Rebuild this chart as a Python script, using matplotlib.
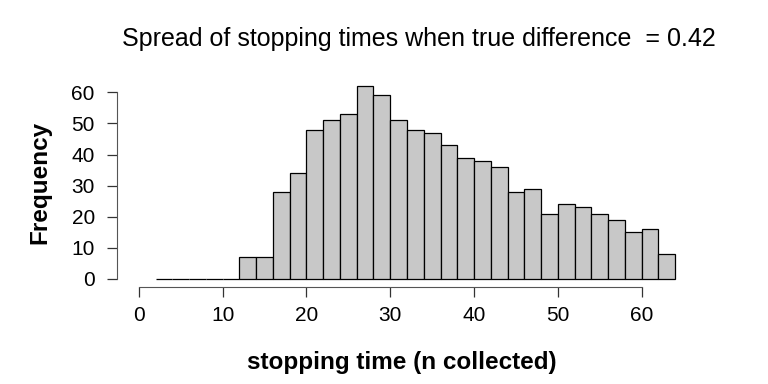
import matplotlib
matplotlib.use("Agg")
import matplotlib.pyplot as plt
import numpy as np

plt.rcParams['font.family'] = ['Liberation Sans', 'DejaVu Sans']

bin_edges = list(range(2, 66, 2))
counts = [0, 0, 0, 0, 0, 7, 7, 28, 34, 48, 51, 53, 62, 59, 51, 48, 47, 43,
          39, 38, 36, 28, 29, 21, 24, 23, 21, 19, 15, 16, 8]
x_ticks = [0, 10, 20, 30, 40, 50, 60]
y_ticks = [0, 10, 20, 30, 40, 50, 60]
title = "Spread of stopping times when true difference  = 0.42"
xlabel = "stopping time (n collected)"
ylabel = "Frequency"

fig = plt.figure(figsize=(7.68, 3.84), dpi=100)
W, H = 768, 384
left, right, top, bottom = 117, 697, 78, 287
ax = fig.add_axes([left / W, 1 - bottom / H, (right - left) / W, (bottom - top) / H])

ax.hist(bin_edges[:-1], bins=bin_edges, weights=counts, color='#C8C8C8',
        edgecolor='black', linewidth=0.9)
ax.set_xlim(-2.6, 66.6)
ax.set_ylim(-2.6, 64.6)

for s in ['top', 'right']:
    ax.spines[s].set_visible(False)
ax.spines['left'].set_bounds(0, 60)
ax.spines['bottom'].set_bounds(0, 60)
ax.spines['left'].set_color('#555555')
ax.spines['bottom'].set_color('#555555')
ax.set_xticks(x_ticks)
ax.set_yticks(y_ticks)
ax.tick_params(axis='both', direction='out', length=7, width=0.9, color='#333333',
               labelsize=15)
ax.tick_params(axis='x', pad=7)
ax.tick_params(axis='y', pad=9)
ax.set_yticklabels([str(v) for v in y_ticks])

fig.text(419 / W, 1 - 46 / H, title, ha='center', va='baseline', fontsize=18)
fig.text(402 / W, 1 - 369 / H, xlabel, ha='center', va='baseline', fontsize=17.5,
         fontweight='bold')
fig.text(40 / W, 1 - 182 / H, ylabel, ha='center', va='center', fontsize=17.5,
         fontweight='bold', rotation=90)

fig.savefig("out.png", dpi=100)
